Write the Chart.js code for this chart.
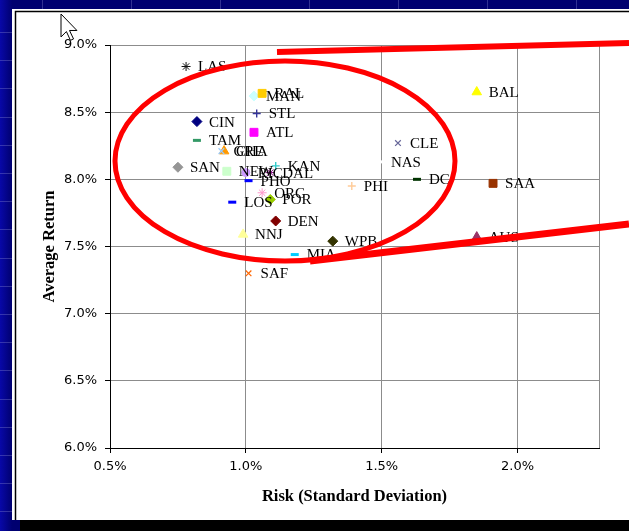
<!DOCTYPE html>
<html>
<head>
<meta charset="utf-8">
<script src="https://cdn.jsdelivr.net/npm/chart.js@4"></script>
<style>
  html, body { margin: 0; padding: 0; background: #000070; overflow: hidden; }
  canvas { display: block; }
</style>
</head>
<body>
<canvas id="riskReturn" width="629" height="531"></canvas>
<script>
// Market codes, risk (std. deviation, %) and average return (%)
const cities = ['LAS','RAL','MAN','STL','ATL','CIN','TAM','GRE','CHA','SAN','NEW','RIC','KAN','DAL','PHO',
                'ORC','POR','LOS','DEN','NNJ','WPB','MIA','SAF','CLE','NAS','PHI','DC','SAA','BAL','AUS'];
const risk = [0.78, 1.06, 1.03, 1.04, 1.03, 0.82, 0.82, 0.91, 0.92, 0.75, 0.93, 1.00, 1.11, 1.09, 1.01,
              1.06, 1.09, 0.95, 1.11, 0.99, 1.32, 1.18, 1.01, 1.56, 1.49, 1.39, 1.63, 1.91, 1.85, 1.85];
const avgReturn = [8.84, 8.64, 8.62, 8.49, 8.35, 8.43, 8.29, 8.21, 8.21, 8.09, 8.06, 8.05, 8.10, 8.05, 7.99,
                   7.90, 7.85, 7.83, 7.69, 7.59, 7.54, 7.44, 7.30, 8.27, 8.13, 7.95, 8.00, 7.97, 8.65, 7.57];

// Marker shape and colour of each market's series
const markerStyles = ['star','rect','rectRot','cross','rect','rectRot','line','crossRot','triangle','rectRot',
                      'rect','circle','cross','star','line','star','rectRot','line','rectRot','triangle',
                      'rectRot','line','crossRot','crossRot','line','cross','line','rect','triangle','triangle'];
const markerColors = ['#111111','#FFCC00','#CCFFFF','#333399','#FF00FF','#000080','#339966','#99CCFF','#FF9900','#969696',
                      '#CCFFCC','#CC99FF','#33CCCC','#800080','#0000FF','#FF99CC','#99CC00','#0000FF','#800000','#FFFF99',
                      '#333300','#00CCFF','#FF6600','#666699','#FFFFFF','#FFCC99','#003300','#993300','#FFFF00','#993366'];

// Axis tick values
const xTickValues = [0.5, 1.0, 1.5, 2.0];
const yTickValues = [6.0, 6.5, 7.0, 7.5, 8.0, 8.5, 9.0];

const markerSize = {
  star: [4.5, 1], rect: [5.6, 1], rectRot: [5, 1], cross: [4, 1.4], crossRot: [4, 1.2],
  line: [4, 3], triangle: [5.5, 1], circle: [4, 1]
};

const datasets = cities.map((name, i) => ({
  label: name,
  data: [{ x: risk[i], y: avgReturn[i] }],
  pointStyle: markerStyles[i],
  backgroundColor: markerColors[i],
  borderColor: markerColors[i],
  pointRadius: markerSize[markerStyles[i]][0],
  pointBorderWidth: markerSize[markerStyles[i]][1],
  pointHoverRadius: markerSize[markerStyles[i]][0],
  showLine: false
}));

// Slide background: navy frame, white page and its black edge
const slideBackground = {
  id: 'slideBackground',
  beforeDraw(chart) {
    const ctx = chart.ctx;
    ctx.save();
    ctx.fillStyle = '#000070';
    ctx.fillRect(0, 0, 629, 531);
    const g = ctx.createLinearGradient(0, 0, 12, 0);
    g.addColorStop(0, '#0808A8');
    g.addColorStop(1, '#000070');
    ctx.fillStyle = g;
    ctx.fillRect(0, 0, 12, 531);
    ctx.strokeStyle = 'rgba(140,140,210,0.35)';
    ctx.lineWidth = 1;
    for (let y = 32; y < 531; y += 28.2) {
      ctx.beginPath(); ctx.moveTo(0, Math.round(y) + 0.5); ctx.lineTo(12, Math.round(y) + 0.5); ctx.stroke();
    }
    for (let x = 42; x < 629; x += 89) {
      ctx.beginPath(); ctx.moveTo(Math.round(x) + 0.5, 0); ctx.lineTo(Math.round(x) + 0.5, 9); ctx.stroke();
    }
    ctx.fillStyle = '#FFFFFF';
    ctx.fillRect(12, 9, 617, 511);
    ctx.strokeStyle = '#000000';
    ctx.lineWidth = 1.5;
    ctx.beginPath();
    ctx.moveTo(15.5, 520); ctx.lineTo(15.5, 11.5); ctx.lineTo(629, 11.5);
    ctx.stroke();
    ctx.restore();
  }
};

// Market code written to the right of each marker
const pointLabels = {
  id: 'pointLabels',
  afterDatasetsDraw(chart) {
    const ctx = chart.ctx;
    ctx.save();
    ctx.font = '15px "Liberation Serif", serif';
    ctx.fillStyle = '#000000';
    ctx.textAlign = 'left';
    ctx.textBaseline = 'middle';
    chart.data.datasets.forEach((ds, i) => {
      const pt = chart.getDatasetMeta(i).data[0];
      ctx.fillText(ds.label, pt.x + 12, pt.y + 1);
    });
    ctx.restore();
  }
};

// Red highlight ellipse with its call-out lines, pointer and page footer
const highlight = {
  id: 'highlight',
  afterDraw(chart) {
    const ctx = chart.ctx;
    ctx.save();
    ctx.strokeStyle = '#FF0000';
    ctx.lineCap = 'butt';
    ctx.lineWidth = 5;
    ctx.beginPath();
    ctx.ellipse(285, 161, 170, 100, 0, 0, Math.PI * 2);
    ctx.stroke();
    ctx.lineWidth = 6;
    ctx.beginPath(); ctx.moveTo(277, 52); ctx.lineTo(629, 43); ctx.stroke();
    ctx.lineWidth = 7;
    ctx.beginPath(); ctx.moveTo(310, 261); ctx.lineTo(629, 224); ctx.stroke();

    // mouse pointer
    const s = 1.35, ox = 61, oy = 14;
    const arrow = [[0,0],[0,17],[4,13],[7,19.5],[9.3,18.5],[6.3,12.2],[11.8,12.2]];
    ctx.beginPath();
    arrow.forEach(([ax, ay], k) => {
      const px = ox + ax * s, py = oy + ay * s;
      if (k === 0) ctx.moveTo(px, py); else ctx.lineTo(px, py);
    });
    ctx.closePath();
    ctx.fillStyle = '#FFFFFF';
    ctx.fill();
    ctx.strokeStyle = '#000000';
    ctx.lineWidth = 1;
    ctx.stroke();

    ctx.fillStyle = '#000000';
    ctx.fillRect(20, 520, 609, 11);
    ctx.restore();
  }
};

const tickFont = { family: '"DejaVu Sans", sans-serif', size: 13 };
const titleFont = { family: '"Liberation Serif", serif', size: 16.5, weight: 'bold' };

new Chart(document.getElementById('riskReturn'), {
  type: 'scatter',
  data: { datasets },
  options: {
    responsive: false,
    animation: false,
    devicePixelRatio: 1,
    layout: { padding: { left: 30, top: 45, right: 30, bottom: 11 } },
    plugins: { legend: { display: false }, tooltip: { enabled: false } },
    events: [],
    scales: {
      x: {
        type: 'linear',
        min: 0.5, max: 2.3,
        afterFit(scale) { scale.height = 72; },
        ticks: {
          stepSize: 0.5,
          color: '#000000',
          font: tickFont,
          padding: 6,
          maxRotation: 0,
          callback: v => xTickValues.some(t => Math.abs(t - v) < 1e-6) ? v.toFixed(1) + '%' : ''
        },
        grid: {
          color: '#8C8C8C',
          lineWidth: 1,
          tickLength: 5,
          tickColor: c => (c.tick && c.tick.value > 2.2) ? 'rgba(0,0,0,0)' : '#000000'
        },
        border: { color: '#000000', width: 1 },
        title: {
          display: true, text: 'Risk (Standard Deviation)', color: '#000000',
          font: titleFont, padding: { top: 2, bottom: 13 }
        }
      },
      y: {
        type: 'linear',
        min: 6.0, max: 9.0,
        afterFit(scale) { scale.width = 80; },
        ticks: {
          stepSize: 0.5,
          color: '#000000',
          font: tickFont,
          padding: 8,
          callback: v => yTickValues.some(t => Math.abs(t - v) < 1e-6) ? v.toFixed(1) + '%' : ''
        },
        grid: { color: '#8C8C8C', lineWidth: 1, tickLength: 5, tickColor: '#000000' },
        border: { color: '#000000', width: 1 },
        title: {
          display: true, text: 'Average Return', color: '#000000',
          font: titleFont, padding: { top: 10, bottom: 2 }
        }
      }
    }
  },
  plugins: [slideBackground, pointLabels, highlight]
});
</script>
</body>
</html>
